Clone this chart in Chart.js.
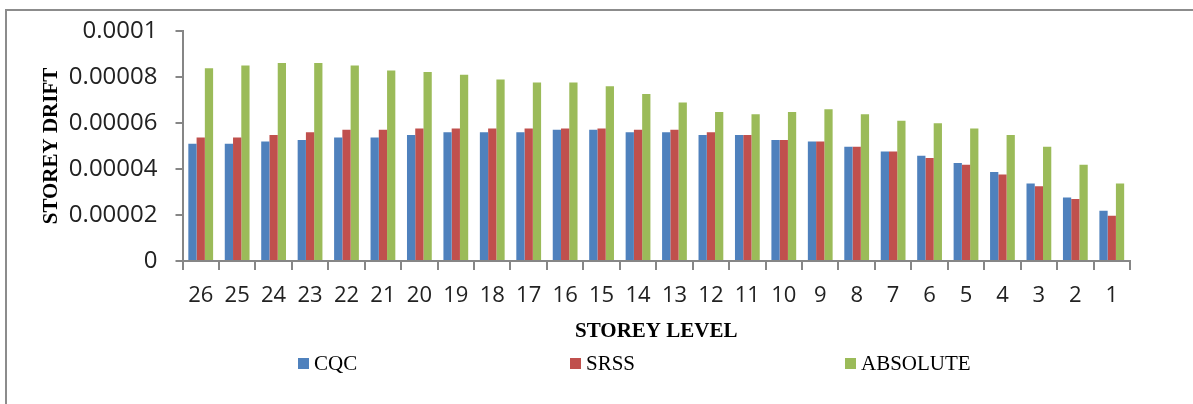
<!DOCTYPE html>
<html>
<head>
<meta charset="utf-8">
<script src="https://cdn.jsdelivr.net/npm/chart.js@4.4.1/dist/chart.umd.min.js"></script>
<style>
    body { margin: 0; background: #fff; }
    #marco {
        position: absolute; left: 5px; top: 9px; width: 1186px; height: 393px;
        border-left: 2px solid #8c8c8c; border-top: 2px solid #8c8c8c;
    }
    #graficaDrift { display: block; }
</style>
</head>
<body>
<div id="marco"><canvas id="graficaDrift" width="1186" height="393"></canvas></div>
<script>
var storeys = ["26", "25", "24", "23", "22", "21", "20", "19", "18", "17", "16", "15", "14",
    "13", "12", "11", "10", "9", "8", "7", "6", "5", "4", "3", "2", "1"];

var cqc = [0.000051, 0.000051, 0.000052, 0.0000526, 0.0000537, 0.0000537, 0.0000548, 0.000056,
    0.000056, 0.000056, 0.0000571, 0.0000571, 0.000056, 0.000056, 0.0000548, 0.0000548, 0.0000526,
    0.000052, 0.0000497, 0.0000476, 0.0000458, 0.0000426, 0.0000387, 0.0000337, 0.0000276, 0.0000219];

var srss = [0.0000537, 0.0000537, 0.0000548, 0.000056, 0.0000571, 0.0000571, 0.0000576, 0.0000576,
    0.0000576, 0.0000576, 0.0000576, 0.0000576, 0.0000571, 0.0000571, 0.000056, 0.0000548, 0.0000526,
    0.000052, 0.0000497, 0.0000476, 0.0000448, 0.0000419, 0.0000376, 0.0000325, 0.000027, 0.0000197];

var absolute = [0.0000838, 0.000085, 0.0000861, 0.0000861, 0.000085, 0.0000828, 0.0000822, 0.000081,
    0.0000789, 0.0000776, 0.0000776, 0.000076, 0.0000726, 0.0000689, 0.0000648, 0.0000638, 0.0000648,
    0.000066, 0.0000638, 0.000061, 0.0000599, 0.0000576, 0.0000548, 0.0000497, 0.0000419, 0.0000337];

var driftTicks = ["0", "0.00002", "0.00004", "0.00006", "0.00008", "0.0001"];
var driftStep = 0.00002;

var gris = "#868686";

// leyenda abajo, separada como en el original
var leyendaPlugin = {
    id: "leyenda",
    afterDraw: function (chart) {
        var ctx = chart.ctx;
        var posX = [291, 563, 838];
        ctx.save();
        ctx.font = '21px "Liberation Serif"';
        ctx.textBaseline = "middle";
        chart.data.datasets.forEach(function (ds, i) {
            ctx.fillStyle = ds.backgroundColor;
            ctx.fillRect(posX[i], 347, 11, 11);
            ctx.fillStyle = "#000";
            ctx.fillText(ds.label, posX[i] + 16, 353);
        });
        ctx.restore();
    }
};

var graficaDrift = new Chart(document.getElementById("graficaDrift"), {
    type: "bar",
    data: {
        labels: storeys,
        datasets: [
            { label: "CQC", data: cqc, backgroundColor: "#4F81BD" },
            { label: "SRSS", data: srss, backgroundColor: "#C0504D" },
            { label: "ABSOLUTE", data: absolute, backgroundColor: "#9BBB59" }
        ]
    },
    options: {
        responsive: false,
        animation: false,
        devicePixelRatio: 1,
        layout: { padding: { left: 29, top: 20, right: 63, bottom: 0 } },
        datasets: { bar: { barPercentage: 1, categoryPercentage: 0.68, borderWidth: 0 } },
        plugins: { legend: { display: false }, tooltip: { enabled: false } },
        scales: {
            x: {
                afterFit: function (scale) { scale.height = 143; },
                border: { color: gris, width: 2 },
                grid: { offset: true, drawOnChartArea: false, tickLength: 9, color: gris, lineWidth: 2 },
                ticks: {
                    autoSkip: false, maxRotation: 0, padding: 13, color: "#222",
                    font: { family: "Open Sans", size: 22 }
                },
                title: {
                    display: true, text: "STOREY LEVEL", color: "#000",
                    font: { family: "Liberation Serif", size: 21, weight: "bold" },
                    padding: { top: 9, bottom: 60 }
                }
            },
            y: {
                min: 0,
                max: 0.0001,
                afterFit: function (scale) {
                    scale.width = 146.5;
                    scale.paddingTop = 0;
                    scale.paddingBottom = 0;
                },
                border: { color: gris, width: 2 },
                grid: { drawOnChartArea: false, tickLength: 7, color: gris, lineWidth: 2 },
                ticks: {
                    stepSize: driftStep, padding: 18, color: "#222",
                    font: { family: "Open Sans", size: 24 },
                    callback: function (value) {
                        return driftTicks[Math.round(value / driftStep)];
                    }
                },
                title: {
                    display: true, text: "STOREY DRIFT", color: "#000",
                    font: { family: "Liberation Serif", size: 21, weight: "bold" },
                    padding: { top: 3, bottom: 4 }
                }
            }
        }
    },
    plugins: [leyendaPlugin]
});
</script>
</body>
</html>
